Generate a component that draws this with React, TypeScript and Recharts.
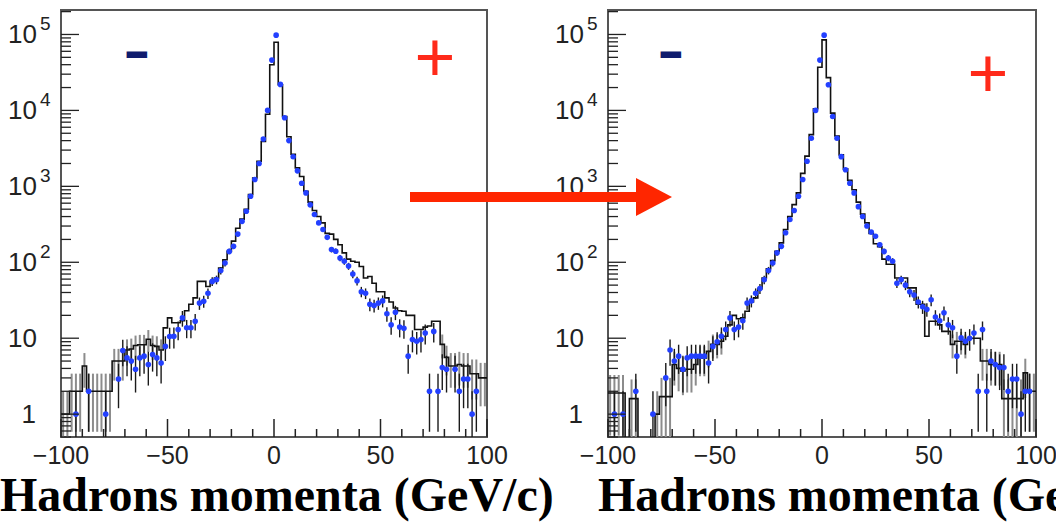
import React from 'react';
import { ComposedChart, Line, Scatter, XAxis, YAxis, ErrorBar, ReferenceArea } from 'recharts';

// 2 GeV/c bins between -100 and 100, listed by bin centre
const binCentres: number[] = Array.from({ length: 100 }, (_, i) => -99 + 2 * i);

// before the correction (left panel)
const histBefore: number[] = [
    1, 1, 2, 2, 2, 4.3, 2, 2, 2, 2,
    2, 2, 5, 5, 5, 7, 7.2, 8, 8.2, 8.2,
    9.7, 8, 7.8, 7, 13.7, 18.5, 16, 16, 17, 23,
    28, 34, 56, 56, 48, 56, 62, 84, 108, 139,
    190, 280, 370, 500, 780, 1290, 2140, 3900, 8900, 40000,
    79000, 21800, 8300, 4500, 2650, 1750, 1350, 860, 620, 480,
    400, 330, 240, 235, 200, 170, 133, 110, 103, 100,
    88, 62, 65, 53, 41, 41, 34, 30, 25, 23,
    22.6, 20, 20, 13, 13, 14, 14.5, 16.7, 16.7, 8.3,
    5.6, 4.3, 4.3, 4.5, 4.3, 4.3, 3.4, 3.4, 3, 3,
];
const pointsBefore: (number | null)[] = [
    null, null, null, 1, null, null, 2, null, null, null,
    1, null, null, 2.9, 6.9, 5.5, 5, 3.9, 5.5, 5.8,
    4.5, 6.1, 5.5, 4.7, 7.8, 10.5, 10.6, 13, 18.5, 13.7,
    13.7, 16.7, 29, 30.7, 39, 56, 59, 78, 98, 139,
    162, 235, 346, 470, 740, 1230, 2000, 4200, 10000, 46000,
    98000, 22000, 8000, 4000, 2450, 1600, 1100, 820, 570, 425,
    330, 270, 213, 147, 140, 114, 103, 89, 70, 57,
    41, 39, 28, 27, 29, 31, 21, 15, 22, 14,
    13.5, 5.8, 9.6, 9.1, 9.6, 11.7, 2, 12.3, 2, 4.1,
    3.9, null, 3.9, 2, 2.9, 2.9, 1, 2, null, null,
];

// after the correction (right panel); 0.1 marks an empty bin
const histAfter: number[] = [
    1.9, 1.9, 1.9, 1.9, 0.1, 1.6, 1.6, 0.1, 0.1, 0.1,
    0.1, 1, 1.7, 1.7, 1.7, 4.5, 4, 3.7, 3.9, 3.9,
    4.5, 5.5, 5.5, 6.7, 8.3, 8.3, 9.1, 10.6, 15, 20,
    18, 18.5, 22.6, 30, 34, 45, 62, 82, 105, 140,
    180, 270, 400, 575, 820, 1480, 2500, 4800, 10500, 37000,
    85000, 27000, 9200, 4600, 2600, 1700, 1200, 900, 620, 430,
    330, 240, 175, 160, 110, 94, 94, 62, 62, 62,
    46, 46, 28, 28, 10.6, 16.7, 16.7, 15, 12.3, 12.3,
    8.3, 9.1, 9.1, 8.3, 10, 10, 10, 5, 5, 4.5,
    4.5, 4.5, 1.6, 1.6, 1.6, 1.6, 1.6, 3.5, 2, 2,
];
const pointsAfter: (number | null)[] = [
    null, 1, null, 1, null, null, 2, null, null, null,
    1, null, null, 3, 7, 5, 5.8, 3.9, 5.5, 5.8,
    5.8, 5.8, 5.8, 4.7, 7.8, 9, 10.6, 13, 18.5, 13,
    14, 17, 29, 31, 39, 45, 59, 78, 98, 133,
    162, 245, 365, 480, 740, 1230, 2140, 4300, 10000, 46000,
    98000, 21800, 8300, 4300, 2460, 1650, 1100, 820, 540, 400,
    300, 250, 220, 170, 139, 114, 103, 53, 59, 50,
    41, 37, 30, 26, 24, 32, 19, 17, 21.6, 15,
    13.7, 5.8, 10.1, 9.1, 10, 11.7, 2, 13, 2, 5,
    4.5, 4.1, 4.1, 2, 2.9, 2.9, 1, 2, 2, null,
];

const xTicks = [-100, -90, -80, -70, -60, -50, -40, -30, -20, -10, 0, 10, 20, 30, 40, 50, 60, 70, 80, 90, 100];
const xLabelled = [-100, -50, 0, 50, 100];
const yDecades = [1, 10, 100, 1000, 10000, 100000];
const yTicks = [0.5, 0.6, 0.7, 0.8, 0.9, ...yDecades.flatMap((d) => [1, 2, 3, 4, 5, 6, 7, 8, 9].map((k) => k * d))];

const Y_MIN = 0.5;
const Y_MAX = 210000;
const axisFont = '"Liberation Sans", Arial, Helvetica, sans-serif';

const poisson = (v: number) => [Math.min(Math.sqrt(v), v - Y_MIN), Math.sqrt(v)];

const renderXTick = (props: any) => {
    const { x, y, payload } = props;
    const v = payload.value;
    const major = xLabelled.includes(v);
    return (
        <g>
            <line x1={x} x2={x} y1={y} y2={y - (major ? 18 : 8)} stroke="#222" strokeWidth={1.5} />
            {major && (
                <text x={x} y={y + 27} textAnchor="middle" fontFamily={axisFont} fontSize={25} fill="#222">
                    {v < 0 ? '\u2212' + Math.abs(v) : v}
                </text>
            )}
        </g>
    );
};

const renderYTick = (props: any) => {
    const { x, y, payload } = props;
    const v = payload.value;
    const major = yDecades.includes(v);
    const exp = Math.round(Math.log10(v));
    return (
        <g>
            <line x1={x} x2={x + (major ? 18 : 10)} y1={y} y2={y} stroke="#222" strokeWidth={1.3} />
            {major && exp === 0 && (
                <text x={x - 25} y={y + 9} textAnchor="end" fontFamily={axisFont} fontSize={26} fill="#222">1</text>
            )}
            {major && exp >= 1 && (
                <text x={x - 24} y={y + 9} textAnchor="end" fontFamily={axisFont} fontSize={26} fill="#222">10</text>
            )}
            {major && exp >= 2 && (
                <text x={x - 21} y={y - 4} textAnchor="start" fontFamily={axisFont} fontSize={19} fill="#222">{exp}</text>
            )}
        </g>
    );
};

const BlueDot = (props: any) => <circle cx={props.cx} cy={props.cy} r={2.8} fill="#2340ff" />;
const NoShape = () => <g />;

interface PanelProps {
    hist: number[];
    pts: (number | null)[];
    left: number;
    width: number;
    plotLeft: number;
    marginRight: number;
}

const AXIS_W = 40;
const AXIS_H = 40;

const Panel: React.FC<PanelProps> = ({ hist, pts, left, width, plotLeft, marginRight }) => {
    const edges = [...hist.map((h, i) => ({ x: binCentres[i] - 1, h })), { x: 100, h: hist[hist.length - 1] }];
    const histErr = hist
        .map((h, i) => ({ x: binCentres[i], h, e: poisson(h) }))
        .filter((p) => p.h >= 1 && p.h < 10);
    const points = pts
        .map((b, i) => ({ x: binCentres[i], b, e: b == null ? [0, 0] : poisson(b) }))
        .filter((p) => p.b != null);

    return (
        <div style={{ position: 'absolute', left, top: 0 }}>
            <ComposedChart
                width={width}
                height={523}
                margin={{ top: 10, right: marginRight, bottom: 86 - AXIS_H, left: plotLeft - AXIS_W }}
            >
                <XAxis
                    type="number"
                    dataKey="x"
                    domain={[-100, 100]}
                    ticks={xTicks}
                    interval={0}
                    height={AXIS_H}
                    tickSize={0}
                    tickMargin={0}
                    tickLine={false}
                    axisLine={false}
                    tick={renderXTick}
                    allowDataOverflow
                />
                <YAxis
                    type="number"
                    scale="log"
                    domain={[Y_MIN, Y_MAX]}
                    ticks={yTicks}
                    interval={0}
                    width={AXIS_W}
                    tickSize={0}
                    tickMargin={0}
                    tickLine={false}
                    axisLine={false}
                    tick={renderYTick}
                    allowDataOverflow
                />
                <Scatter data={histErr} dataKey="h" shape={NoShape} isAnimationActive={false}>
                    <ErrorBar dataKey="e" direction="y" width={0} stroke="#8c8c8c" strokeWidth={2} />
                </Scatter>
                <Line data={edges} dataKey="h" type="stepAfter" stroke="#111" strokeWidth={1.6} dot={false} isAnimationActive={false} />
                <Scatter data={points} dataKey="b" shape={BlueDot} isAnimationActive={false}>
                    <ErrorBar dataKey="e" direction="y" width={0} stroke="#1a1a1a" strokeWidth={1.4} />
                </Scatter>
                <ReferenceArea x1={-100} x2={100} y1={Y_MIN} y2={Y_MAX} fill="none" stroke="#555" strokeWidth={2} />
            </ComposedChart>
        </div>
    );
};

const serif = '"Liberation Serif", "Times New Roman", Times, serif';

export default function App() {
    return (
        <div style={{ position: 'absolute', left: 0, top: 0, width: 1056, height: 523, background: '#fff', overflow: 'hidden' }}>
            <Panel hist={histBefore} pts={pointsBefore} left={0} width={540} plotLeft={61} marginRight={53} />
            <Panel hist={histAfter} pts={pointsAfter} left={540} width={516} plotLeft={68} marginRight={20} />
            <svg width={1056} height={523} style={{ position: 'absolute', left: 0, top: 0, pointerEvents: 'none' }}>
                <line x1={410} y1={197} x2={640} y2={197} stroke="#ff2600" strokeWidth={10} />
                <polygon points="636,178 672,197 636,216" fill="#ff2600" />
                <text x={137} y={54} textAnchor="middle" dominantBaseline="central" fontFamily={axisFont} fontSize={34} fill="#101c6e" stroke="#101c6e" strokeWidth={4}>{'\u2212'}</text>
                <text x={435} y={57} textAnchor="middle" dominantBaseline="central" fontFamily={axisFont} fontSize={70} fill="#ff2a1a">+</text>
                <text x={671} y={54} textAnchor="middle" dominantBaseline="central" fontFamily={axisFont} fontSize={34} fill="#101c6e" stroke="#101c6e" strokeWidth={4}>{'\u2212'}</text>
                <text x={988} y={73} textAnchor="middle" dominantBaseline="central" fontFamily={axisFont} fontSize={70} fill="#ff2a1a">+</text>
                <text x={0} y={511} fontFamily={serif} fontWeight="bold" fontSize={48} fill="#000">Hadrons momenta (GeV/c)</text>
                <text x={598} y={511} fontFamily={serif} fontWeight="bold" fontSize={48} fill="#000">Hadrons momenta (GeV/c)</text>
            </svg>
        </div>
    );
}
